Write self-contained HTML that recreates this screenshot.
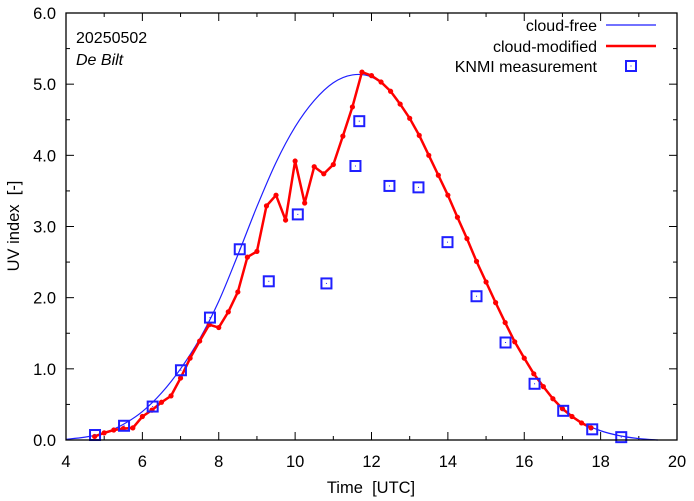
<!DOCTYPE html>
<html><head><meta charset="utf-8"><style>
body{margin:0;background:#fff}
svg{display:block;font-family:"Liberation Sans",sans-serif}
</style></head><body>
<svg id="chart" width="694" height="501" viewBox="0 0 694 501">
<rect x="0" y="0" width="694" height="501" fill="#fff"/>
<g id="grid"></g>
<g id="series"></g>
<rect x="66" y="13" width="611" height="427" fill="none" stroke="#000" stroke-width="1.3"/>
<text x="76" y="43" font-size="16">20250502</text>
<text x="76" y="65" font-size="16" font-style="italic">De Bilt</text>
<text x="371" y="493" font-size="16.5" text-anchor="middle">Time&#160;&#160;[UTC]</text>
<text transform="translate(19,226) rotate(-90)" font-size="16.5" text-anchor="middle">UV index&#160;&#160;[-]</text>
<g>
<text x="597" y="31" font-size="16" text-anchor="end">cloud-free</text>
<line x1="606" y1="25" x2="656" y2="25" stroke="#1f1fff" stroke-width="1.2"/>
<text x="597" y="52" font-size="16" text-anchor="end">cloud-modified</text>
<line x1="606" y1="46" x2="656" y2="46" stroke="#f00" stroke-width="2.5"/>
<text x="597" y="72" font-size="16" text-anchor="end">KNMI measurement</text>
<rect x="626" y="61" width="10" height="10" fill="none" stroke="#1f1fff" stroke-width="2"/>
<rect x="630.5" y="65.5" width="1" height="1" fill="#1f1fff"/>
</g>
</svg>
<script>
const xTicks=[4,6,8,10,12,14,16,18,20];
const yTicks=[0,1,2,3,4,5,6];
const yTickLabels=["0.0","1.0","2.0","3.0","4.0","5.0","6.0"];
const clearT=[4,4.5,5,5.5,6,6.5,7,7.5,8,8.5,9,9.5,10,10.5,11,11.5,12,12.5,13,13.5,14,14.5,15,15.5,16,16.5,17,17.5,18,18.5,19,19.5];
const clearV=[0.01,0.04,0.1,0.22,0.4,0.66,1.0,1.42,1.95,2.6,3.28,3.9,4.4,4.77,5.02,5.13,5.1,4.9,4.52,4.0,3.44,2.83,2.22,1.65,1.15,0.75,0.45,0.25,0.13,0.06,0.02,0.0];
const cloudT=[4.75,5,5.25,5.5,5.75,6,6.25,6.5,6.75,7,7.25,7.5,7.75,8,8.25,8.5,8.75,9,9.25,9.5,9.75,10,10.25,10.5,10.75,11,11.25,11.5,11.75,12,12.25,12.5,12.75,13,13.25,13.5,13.75,14,14.25,14.5,14.75,15,15.25,15.5,15.75,16,16.25,16.5,16.75,17,17.25,17.5,17.75];
const cloudV=[0.05,0.1,0.14,0.16,0.17,0.33,0.42,0.53,0.62,0.87,1.15,1.39,1.62,1.58,1.8,2.08,2.57,2.65,3.29,3.44,3.09,3.92,3.33,3.84,3.74,3.87,4.27,4.68,5.17,5.12,5.03,4.9,4.72,4.52,4.28,4.0,3.72,3.44,3.13,2.83,2.51,2.22,1.93,1.65,1.38,1.15,0.93,0.75,0.58,0.44,0.33,0.24,0.17];
const knmiT=[4.76,5.52,6.27,7.01,7.77,8.55,9.31,10.07,10.82,11.58,11.68,12.47,13.23,13.99,14.75,15.51,16.27,17.02,17.78,18.54];
const knmiV=[0.07,0.2,0.47,0.98,1.72,2.68,2.23,3.17,2.2,3.85,4.48,3.57,3.55,2.78,2.02,1.37,0.79,0.41,0.15,0.04];
const NS="http://www.w3.org/2000/svg";
const X=t=>66+(t-4)*(611/16);
const Y=v=>440-v*(427/6);
function mk(tag,attrs,parent){const e=document.createElementNS(NS,tag);for(const k in attrs)e.setAttribute(k,attrs[k]);parent.appendChild(e);return e;}
const grid=document.getElementById('grid'),ser=document.getElementById('series');
for(let t=4;t<=20;t+=1){const x=X(t);
 const a=mk('line',{x1:x,y1:440,x2:x,y2:t%2===0?432:436,stroke:'#000'},grid);
 
 
 const b=mk('line',{x1:x,y1:13,x2:x,y2:t%2===0?21:17,stroke:'#000'},grid);
 
 }
xTicks.forEach(t=>{const e=mk('text',{x:X(t),y:467,'font-size':16.5,'text-anchor':'middle'},grid);e.textContent=t;
 
 });
for(let v=0;v<=6;v+=0.5){const y=Y(v);
 const a=mk('line',{x1:66,y1:y,x2:v%1===0?74:70,y2:y,stroke:'#000'},grid);
 
 
 const b=mk('line',{x1:677,y1:y,x2:v%1===0?669:673,y2:y,stroke:'#000'},grid);
 
 }
yTicks.forEach((v,i)=>{const e=mk('text',{x:56,y:Y(v)+6,'font-size':16.5,'text-anchor':'end'},grid);e.textContent=yTickLabels[i];
 
 });
// smooth Catmull-Rom path for cloud-free curve
const pts=clearT.map((t,i)=>[X(t),Y(clearV[i])]);
let d='M'+pts[0][0]+','+pts[0][1];
for(let i=0;i<pts.length-1;i++){
 const p0=pts[Math.max(0,i-1)],p1=pts[i],p2=pts[i+1],p3=pts[Math.min(pts.length-1,i+2)];
 const c1=[p1[0]+(p2[0]-p0[0])/6,p1[1]+(p2[1]-p0[1])/6];
 const c2=[p2[0]-(p3[0]-p1[0])/6,p2[1]-(p3[1]-p1[1])/6];
 d+=' C'+c1[0]+','+c1[1]+' '+c2[0]+','+c2[1]+' '+p2[0]+','+p2[1];
}
const cf=mk('path',{d:d,fill:'none',stroke:'#1f1fff','stroke-width':1.2},ser);


const cm=mk('polyline',{points:cloudT.map((t,i)=>X(t)+','+Y(cloudV[i])).join(' '),fill:'none',stroke:'#f00','stroke-width':2.5,'stroke-linejoin':'round'},ser);


cloudT.forEach((t,i)=>{const c=mk('circle',{cx:X(t),cy:Y(cloudV[i]),r:2.6,fill:'#f00'},ser);
 
 });
knmiT.forEach((t,i)=>{const x=X(t),y=Y(knmiV[i]);
 const r=mk('rect',{x:x-5,y:y-5,width:10,height:10,fill:'none',stroke:'#1f1fff','stroke-width':2},ser);
 
 
 mk('rect',{x:x-0.5,y:y-0.5,width:1,height:1,fill:'#1f1fff'},ser);});
</script>
</body></html>
